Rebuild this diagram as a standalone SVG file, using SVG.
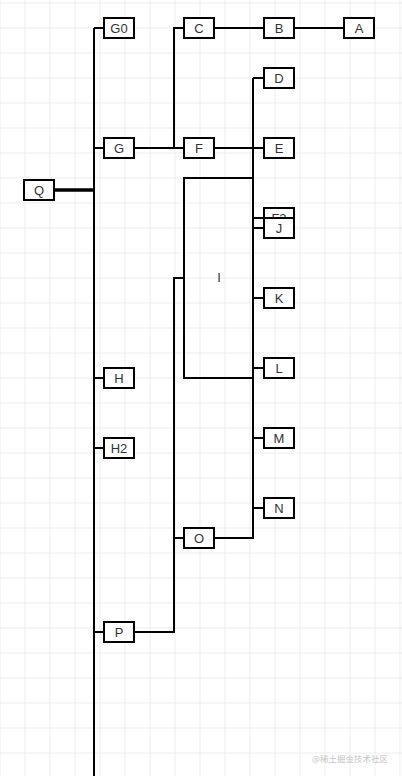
<svg xmlns="http://www.w3.org/2000/svg" width="402" height="776" viewBox="0 0 402 776">
<defs>
<pattern id="grid" x="-0.5" y="2.5" width="25" height="25" patternUnits="userSpaceOnUse">
<path d="M0 0 H25 M0 0 V25" fill="none" stroke="#e8e8e8" stroke-width="1.5"/>
</pattern>
</defs>
<style>
.box{fill:#fff;stroke:#000;stroke-width:2}
.lbl{font-family:"Liberation Sans",Arial,sans-serif;font-size:13px;fill:#333;text-anchor:middle;dominant-baseline:central}
.ln{fill:none;stroke:#000;stroke-width:2}
.wm{font-family:"Noto Sans CJK SC",sans-serif;font-size:8.5px;fill:#c4c4c4}
</style>
<rect width="402" height="776" fill="#fff"/>
<rect width="402" height="776" fill="url(#grid)"/>
<g id="connectors">
<path class="ln" d="M94 28 V776"/>
<path class="ln" d="M94 28 H104 M94 148 H104 M94 378 H104 M94 448 H104 M94 632 H104"/>
<path d="M54 190 H94" fill="none" stroke="#000" stroke-width="3.5"/>
<path class="ln" d="M134 148 H184 M174 148 V28 H184 M214 28 H264 M294 28 H344"/>
<path class="ln" d="M214 148 H264 M253 78 V538 H214 M253 78 H264 M253 218 H264 M253 228 H264 M253 298 H264 M253 368 H264 M253 438 H264 M253 508 H264"/>
<path class="ln" d="M134 632 H174 V278 H184 M174 538 H184"/>
</g>
<g id="node-I"><rect class="box" x="184" y="178" width="69" height="200" style="fill:none"/><text class="lbl" x="219" y="277">I</text></g>
<g id="node-G0"><rect class="box" x="104" y="18" width="30" height="20"/><text class="lbl" x="119" y="28">G0</text></g>
<g id="node-G"><rect class="box" x="104" y="138" width="30" height="20"/><text class="lbl" x="119" y="148">G</text></g>
<g id="node-Q"><rect class="box" x="24" y="180" width="30" height="20"/><text class="lbl" x="39" y="190">Q</text></g>
<g id="node-H"><rect class="box" x="104" y="368" width="30" height="20"/><text class="lbl" x="119" y="378">H</text></g>
<g id="node-H2"><rect class="box" x="104" y="438" width="30" height="20"/><text class="lbl" x="119" y="448">H2</text></g>
<g id="node-P"><rect class="box" x="104" y="622" width="30" height="20"/><text class="lbl" x="119" y="632">P</text></g>
<g id="node-C"><rect class="box" x="184" y="18" width="30" height="20"/><text class="lbl" x="199" y="28">C</text></g>
<g id="node-F"><rect class="box" x="184" y="138" width="30" height="20"/><text class="lbl" x="199" y="148">F</text></g>
<g id="node-O"><rect class="box" x="184" y="528" width="30" height="20"/><text class="lbl" x="199" y="538">O</text></g>
<g id="node-B"><rect class="box" x="264" y="18" width="30" height="20"/><text class="lbl" x="279" y="28">B</text></g>
<g id="node-A"><rect class="box" x="344" y="18" width="30" height="20"/><text class="lbl" x="359" y="28">A</text></g>
<g id="node-D"><rect class="box" x="264" y="68" width="30" height="20"/><text class="lbl" x="279" y="78">D</text></g>
<g id="node-E"><rect class="box" x="264" y="138" width="30" height="20"/><text class="lbl" x="279" y="148">E</text></g>
<g id="node-F2"><rect class="box" x="264" y="208" width="30" height="20"/><text class="lbl" x="279" y="218">F2</text></g>
<g id="node-J"><rect class="box" x="264" y="218" width="30" height="20"/><text class="lbl" x="279" y="228">J</text></g>
<g id="node-K"><rect class="box" x="264" y="288" width="30" height="20"/><text class="lbl" x="279" y="298">K</text></g>
<g id="node-L"><rect class="box" x="264" y="358" width="30" height="20"/><text class="lbl" x="279" y="368">L</text></g>
<g id="node-M"><rect class="box" x="264" y="428" width="30" height="20"/><text class="lbl" x="279" y="438">M</text></g>
<g id="node-N"><rect class="box" x="264" y="498" width="30" height="20"/><text class="lbl" x="279" y="508">N</text></g>
<text class="wm" x="312" y="762">@稀土掘金技术社区</text>
</svg>
